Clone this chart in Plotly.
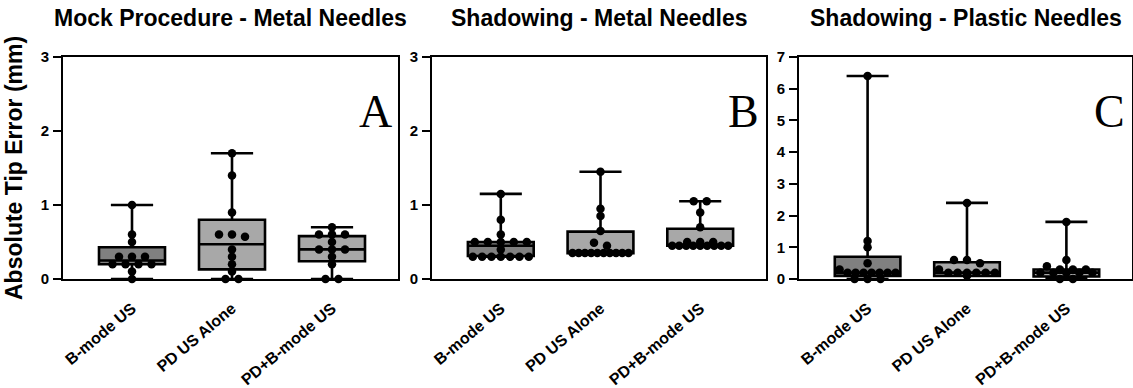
import numpy as np
import plotly.graph_objects as go

W, H = 1133, 388

groups = ["B-mode US", "PD US Alone", "PD+B-mode US"]
panel_titles = ["Mock Procedure - Metal Needles", "Shadowing - Metal Needles", "Shadowing - Plastic Needles"]
panel_letters = ["A", "B", "C"]
y_max = [3, 3, 7]
y_tickvals = [[0, 1, 2, 3], [0, 1, 2, 3], [0, 1, 2, 3, 4, 5, 6, 7]]

# --- data (mm) ---
mock_bmode = [1.0, 0.6, 0.5, 0.3, 0.3, 0.3, 0.2, 0.2, 0.2, 0.2, 0.1, 0.0]
mock_pd = [1.7, 1.4, 0.9, 0.6, 0.6, 0.57, 0.4, 0.3, 0.2, 0.1, 0.0, 0.0]
mock_pdb = [0.7, 0.6, 0.6, 0.6, 0.5, 0.4, 0.4, 0.4, 0.3, 0.2, 0.0, 0.0]

shm_bmode = [1.15, 0.8, 0.6, 0.5, 0.5, 0.5, 0.5, 0.5, 0.4,
             0.3, 0.3, 0.3, 0.3, 0.3, 0.3, 0.3]
shm_pd = [1.45, 0.95, 0.85, 0.65, 0.49, 0.45,
          0.35, 0.35, 0.35, 0.35, 0.35, 0.35, 0.35, 0.35, 0.35, 0.35]
shm_pdb = [1.05, 1.05, 0.9, 0.7, 0.5, 0.5, 0.5,
           0.45, 0.45, 0.45, 0.45, 0.45, 0.45, 0.45, 0.45, 0.45]

shp_bmode = [6.4, 1.2, 1.0, 0.5, 0.3, 0.2, 0.2, 0.2, 0.2, 0.2, 0.2, 0.2, 0.0, 0.0, 0.0]
shp_pd = [2.4, 0.6, 0.6, 0.5, 0.3, 0.2, 0.2, 0.2, 0.2, 0.2, 0.2, 0.1]
shp_pdb = [1.8, 0.6, 0.4, 0.3, 0.3, 0.3, 0.2, 0.2, 0.2, 0.2, 0.2, 0.0, 0.0]

# box statistics: [B-mode, PD alone, PD+B-mode]
mock_q1 = [0.2, 0.13, 0.24]
mock_median = [0.25, 0.47, 0.4]
mock_q3 = [0.43, 0.8, 0.58]

shm_q1 = [0.31, 0.35, 0.45]
shm_median = [0.45, 0.35, 0.45]
shm_q3 = [0.5, 0.64, 0.68]

shp_q1 = [0.1, 0.1, 0.08]
shp_median = [0.2, 0.2, 0.2]
shp_q3 = [0.7, 0.53, 0.3]

panels = [
    dict(values=[mock_bmode, mock_pd, mock_pdb], q1=mock_q1, med=mock_median, q3=mock_q3),
    dict(values=[shm_bmode, shm_pd, shm_pdb], q1=shm_q1, med=shm_median, q3=shm_q3),
    dict(values=[shp_bmode, shp_pd, shp_pdb], q1=shp_q1, med=shp_median, q3=shp_q3),
]
box_colors = ["#808080", "#a8a8a8", "#a8a8a8"]

# --- layout geometry (pixels) ---
x_px = [(63, 398), (432, 766), (799, 1132)]
y_top, y_bot = 57, 279
x_range = [-0.69, 2.66]
ydom = [1 - y_bot / H, 1 - y_top / H]

FONT = "Liberation Sans"


def swarm(vals, center, ppx, ppy, tol=3.5, step=13.0, maxspread=56.0):
    s = sorted(vals, reverse=True)
    rows = []
    for v in s:
        if rows and (rows[-1][0] - v) * ppy <= tol:
            rows[-1].append(v)
        else:
            rows.append([v])
    xs, ys = [], []
    for row in rows:
        k = len(row)
        sp = step if k == 1 else min(step, maxspread / (k - 1))
        for i, v in enumerate(row):
            off = (i - (k - 1) / 2) * sp
            xs.append(center + off / ppx)
            ys.append(v)
    return xs, ys


fig = go.Figure()
layout = dict(
    width=W, height=H,
    margin=dict(l=0, r=0, t=0, b=0, pad=0, autoexpand=False),
    paper_bgcolor="white", plot_bgcolor="white", showlegend=False,
    font=dict(family=FONT, color="black"),
)
annotations = []

for p, panel in enumerate(panels):
    sfx = "" if p == 0 else str(p + 1)
    xa, ya = "x" + sfx, "y" + sfx
    x0, x1 = x_px[p]
    ppx = (x1 - x0) / (x_range[1] - x_range[0])
    ppy = (y_bot - y_top) / y_max[p]
    for g in range(3):
        vals = panel["values"][g]
        fig.add_trace(go.Box(
            x=[g], q1=[panel["q1"][g]], median=[panel["med"][g]], q3=[panel["q3"][g]],
            lowerfence=[min(vals)], upperfence=[max(vals)],
            width=0.66, whiskerwidth=0.64, fillcolor=box_colors[g],
            line=dict(color="black", width=2.6), boxpoints=False,
            xaxis=xa, yaxis=ya, hoverinfo="skip",
        ))
    for g in range(3):
        xs, ys = swarm(panel["values"][g], g, ppx, ppy)
        fig.add_trace(go.Scatter(
            x=xs, y=ys, mode="markers", cliponaxis=False,
            marker=dict(color="black", size=8.5, line=dict(width=0)),
            xaxis=xa, yaxis=ya, hoverinfo="skip",
        ))
    layout["xaxis" + sfx] = dict(
        domain=[x0 / W, x1 / W], range=x_range, anchor=ya, automargin=False,
        tickvals=[0, 1, 2], ticktext=groups, tickangle=-40,
        tickfont=dict(family=FONT, size=16, weight="bold", color="black"),
        ticks="", ticklabelstandoff=12,
        showline=True, linecolor="black", linewidth=2, mirror=True,
        showgrid=False, zeroline=False, fixedrange=True,
    )
    layout["yaxis" + sfx] = dict(
        domain=ydom, range=[0, y_max[p]], anchor=xa, automargin=False,
        tickvals=y_tickvals[p], ticks="outside", ticklen=8, tickwidth=2, tickcolor="black",
        tickfont=dict(family=FONT, size=15, weight="bold", color="black"),
        ticklabelstandoff=1,
        showline=True, linecolor="black", linewidth=2, mirror=True,
        showgrid=False, zeroline=False, fixedrange=True,
    )
    annotations.append(dict(
        text=panel_titles[p], xref="paper", yref="paper",
        x=(x0 + x1) / 2 / W, y=1 - 18 / H, xanchor="center", yanchor="middle",
        showarrow=False, font=dict(family=FONT, size=23, weight="bold", color="black"),
    ))
    annotations.append(dict(
        text=panel_letters[p], xref="paper", yref="paper",
        x=(x1 - 23) / W, y=1 - 112 / H, xanchor="center", yanchor="middle",
        showarrow=False, font=dict(family="Liberation Serif", size=46, color="black"),
    ))

annotations.append(dict(
    text="Absolute Tip Error (mm)", xref="paper", yref="paper",
    x=14 / W, y=1 - 168 / H, xanchor="center", yanchor="middle", textangle=-90,
    showarrow=False, font=dict(family=FONT, size=23, weight="bold", color="black"),
))
layout["annotations"] = annotations
fig.update_layout(**layout)

fig.write_html("out.html")
